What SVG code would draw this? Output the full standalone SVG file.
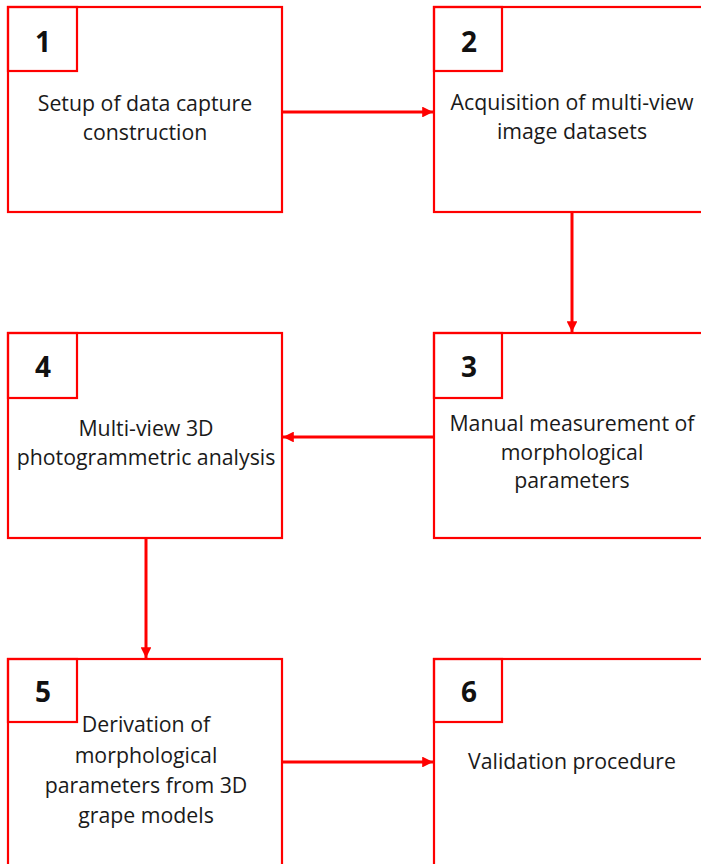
<svg xmlns="http://www.w3.org/2000/svg" width="701" height="864" viewBox="0 0 701 864">
<style>
.box{fill:#fff;stroke:#ff0000;stroke-width:2.2}
.num{fill:none;stroke:#ff0000;stroke-width:2.2}
.lbl{font-family:"Open Sans","Liberation Sans",sans-serif;font-size:21.3px;fill:#1a1a1a;text-anchor:middle}
.n{font-family:"Open Sans","Liberation Sans",sans-serif;font-size:28px;font-weight:bold;fill:#111;text-anchor:middle}
.con{stroke:#ff0000;stroke-width:3;fill:none}
</style>
<defs>
<marker id="ah" viewBox="0 0 10 10" refX="10" refY="5" markerWidth="3.6" markerHeight="3.6" orient="auto" markerUnits="strokeWidth">
<path d="M0,0 L10,5 L0,10 z" fill="#ff0000"/>
</marker>
</defs>
<rect width="701" height="864" fill="#fff"/>
<g id="node1">
<rect class="box" x="8" y="7" width="274" height="205"/>
<rect class="num" x="8" y="7" width="69" height="64"/>
<text class="n" x="43" y="52">1</text>
<text class="lbl" x="145" y="111">Setup of data capture</text>
<text class="lbl" x="145" y="140">construction</text>
</g>
<g id="node2">
<rect class="box" x="434" y="7" width="274" height="205"/>
<rect class="num" x="434" y="7" width="68" height="64"/>
<text class="n" x="469" y="52">2</text>
<text class="lbl" x="572" y="110">Acquisition of multi-view</text>
<text class="lbl" x="572" y="139">image datasets</text>
</g>
<g id="node3">
<rect class="box" x="434" y="333" width="274" height="205"/>
<rect class="num" x="434" y="333" width="68" height="65"/>
<text class="n" x="469" y="377">3</text>
<text class="lbl" x="572" y="431">Manual measurement of</text>
<text class="lbl" x="572" y="460">morphological</text>
<text class="lbl" x="572" y="488">parameters</text>
</g>
<g id="node4">
<rect class="box" x="8" y="333" width="274" height="205"/>
<rect class="num" x="8" y="333" width="69" height="65"/>
<text class="n" x="43" y="377">4</text>
<text class="lbl" x="146" y="436">Multi-view 3D</text>
<text class="lbl" x="146" y="465">photogrammetric analysis</text>
</g>
<g id="node5">
<rect class="box" x="8" y="659" width="274" height="210"/>
<rect class="num" x="8" y="659" width="69" height="63"/>
<text class="n" x="43" y="702">5</text>
<text class="lbl" x="146" y="732">Derivation of</text>
<text class="lbl" x="146" y="763">morphological</text>
<text class="lbl" x="146" y="793">parameters from 3D</text>
<text class="lbl" x="146" y="823">grape models</text>
</g>
<g id="node6">
<rect class="box" x="434" y="659" width="274" height="210"/>
<rect class="num" x="434" y="659" width="68" height="63"/>
<text class="n" x="469" y="702">6</text>
<text class="lbl" x="572" y="769">Validation procedure</text>
</g>
<g id="connectors">
<line class="con" x1="283" y1="112" x2="433" y2="112" marker-end="url(#ah)"/>
<line class="con" x1="572" y1="213" x2="572" y2="332" marker-end="url(#ah)"/>
<line class="con" x1="433" y1="437" x2="283" y2="437" marker-end="url(#ah)"/>
<line class="con" x1="146" y1="539" x2="146" y2="658" marker-end="url(#ah)"/>
<line class="con" x1="283" y1="762" x2="433" y2="762" marker-end="url(#ah)"/>
</g>
</svg>
